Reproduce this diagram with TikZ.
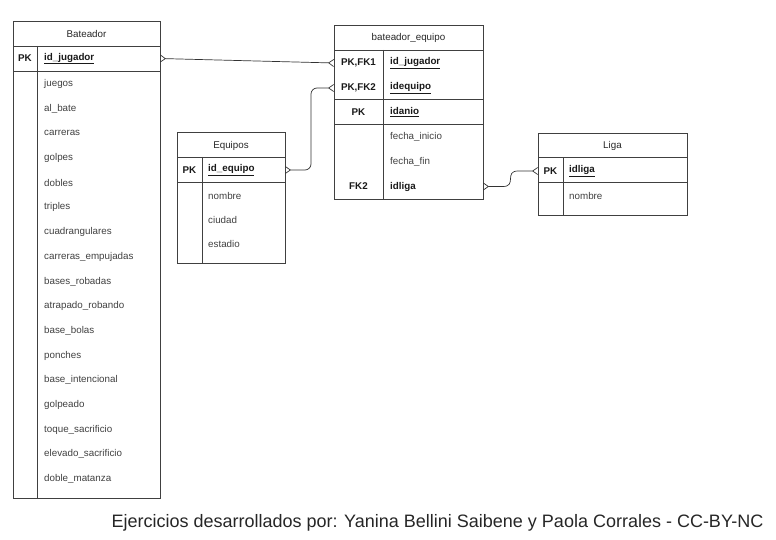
\documentclass[tikz,border=0pt]{standalone}
\usepackage{fontspec}
\setmainfont{Liberation Sans}
\usepackage{tikz}
\usetikzlibrary{arrows.meta}

\tikzset{
  tbl/.style = {draw=black!75, line width=0.8pt, inner sep=0, outer sep=0},
  sep/.style = {draw=black!75, line width=0.8pt},
  title/.style = {font=\fontsize{9.8}{11}\selectfont, text=black!85},
  field/.style = {anchor=west, inner sep=0, font=\fontsize{9.8}{11}\selectfont, text=black!75},
  keyf/.style = {field, text=black!90, font=\fontsize{9.8}{11}\selectfont\bfseries},
  keyc/.style = {inner sep=0, text=black!90, font=\fontsize{9.8}{11}\selectfont\bfseries},
  rel/.style = {draw=black!80, line width=0.7pt,
    {Straight Barb[reversed,length=5pt,width=7pt]}-{Straight Barb[reversed,length=5pt,width=7pt]}}
}

\begin{document}
\begin{tikzpicture}[x=1pt, y=-1pt]
    \useasboundingbox (0,0) rectangle (776,540);

    % Bateador
    \node[tbl, minimum width=147, minimum height=477] (bateador) at (86.5,259.5) {};
    \draw[sep] (13,46) -- (160,46);
    \draw[sep] (13,71) -- (160,71);
    \draw[sep] (37,46) -- (37,498);
    \node[title] (battitle) at (86.5,34) {Bateador};
    \node[keyc] (batpk) at (25,58.5) {PK};
    \node[keyf] (batid) at (44,58.5) {\underline{id\_jugador}};
    \foreach \f [count=\i] in {juegos, al\_bate, carreras, golpes, dobles, triples,
      cuadrangulares, carreras\_empujadas, bases\_robadas, atrapado\_robando,
      base\_bolas, ponches, base\_intencional, golpeado, toque\_sacrificio,
      elevado\_sacrificio, doble\_matanza}
      \node[field] (bat\i) at (44,59.3+24.69*\i) {\f};

    % bateador_equipo
    \node[tbl, minimum width=149, minimum height=174] (bequipo) at (408.5,112) {};
    \draw[sep] (334,50) -- (483,50);
    \draw[sep] (334,99.5) -- (483,99.5);
    \draw[sep] (334,124) -- (483,124);
    \draw[sep] (383,50) -- (383,199);
    \node[title] (beqtitle) at (408.5,38) {bateador\_equipo};
    \node[keyc] (beqfk1) at (358.5,63) {PK,FK1};
    \node[keyf] (beqjug) at (390,63) {\underline{id\_jugador}};
    \node[keyc] (beqfk2) at (358.5,88) {PK,FK2};
    \node[keyf] (beqeq) at (390,88) {\underline{idequipo}};
    \node[keyc] (beqpk) at (358.5,112) {PK};
    \node[keyf] (beqanio) at (390,112) {\underline{idanio}};
    \node[field] (beqini) at (390,137) {fecha\_inicio};
    \node[field] (beqfin) at (390,162) {fecha\_fin};
    \node[keyc] (beqfk) at (358.5,186.5) {FK2};
    \node[keyf] (beqliga) at (390,186.5) {idliga};

    % Equipos
    \node[tbl, minimum width=108, minimum height=131] (equipos) at (231,197.5) {};
    \draw[sep] (177,157) -- (285,157);
    \draw[sep] (177,182) -- (285,182);
    \draw[sep] (202,157) -- (202,263);
    \node[title] (eqtitle) at (231,145.5) {Equipos};
    \node[keyc] (eqpk) at (189.5,170) {PK};
    \node[keyf] (eqid) at (208,170) {\underline{id\_equipo}};
    \node[field] (eqnom) at (208,195.5) {nombre};
    \node[field] (eqciu) at (208,219.5) {ciudad};
    \node[field] (eqest) at (208,244) {estadio};

    % Liga
    \node[tbl, minimum width=149, minimum height=82] (liga) at (612.5,174) {};
    \draw[sep] (538,157.5) -- (687,157.5);
    \draw[sep] (538,182.5) -- (687,182.5);
    \draw[sep] (563,157.5) -- (563,215);
    \node[title] (ligatitle) at (612.5,145.5) {Liga};
    \node[keyc] (ligapk) at (550.5,171) {PK};
    \node[keyf] (ligaid) at (569,171) {\underline{idliga}};
    \node[field] (liganom) at (569,195.5) {nombre};

    % relaciones
    \coordinate (bend) at (311,0);
    \draw[rel] (bateador.east |- batid) -- (bequipo.west |- beqfk1);
    \draw[rel, rounded corners=6] (equipos.east |- eqid) -| (bend |- beqfk2) -- (bequipo.west |- beqfk2);
    \draw[rel] (bequipo.east |- beqliga) -- +(20,0) .. controls +(14,0) and +(-14,0) .. (ligaid -| 518,0) -- (liga.west |- ligapk);

    \node[font=\fontsize{18}{21}\selectfont, text=black!85] (credito) at (437.5,523)
      {Ejercicios desarrollados por: Yanina Bellini Saibene y Paola Corrales - CC-BY-NC};
\end{tikzpicture}
\end{document}
